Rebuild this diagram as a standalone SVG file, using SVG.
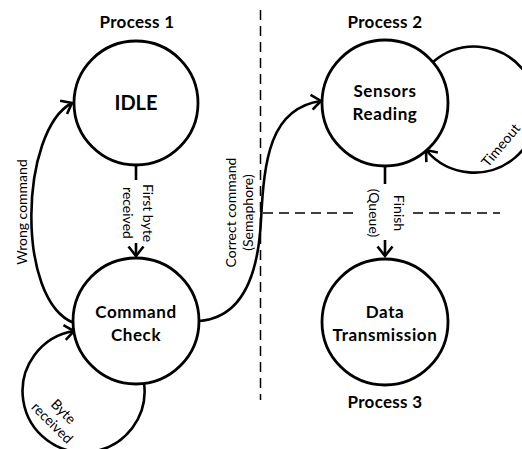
<svg xmlns="http://www.w3.org/2000/svg" width="522" height="449" viewBox="0 0 522 449">
<style>
.node{fill:#fff;stroke:#000;stroke-width:2.8}
.conn{fill:none;stroke:#000;stroke-width:2.6}
.dash{fill:none;stroke:#000;stroke-width:1.5;stroke-dasharray:10,6}
.t{font-family:Lato,"Liberation Sans",sans-serif;fill:#000}
.title{font-size:17px;font-weight:bold;letter-spacing:0.3px}
.big{font-size:20px;font-weight:bold}
.nl{font-size:17px;font-weight:bold;letter-spacing:0.6px}
.lbl{font-size:14px}
</style>
<defs>
<marker id="arr" markerUnits="userSpaceOnUse" markerWidth="20" markerHeight="20" viewBox="-12 -10 14 20" refX="0" refY="0" orient="auto">
<path d="M-9.5,-7.5 L0,0 L-9.5,7.5" fill="none" stroke="#000" stroke-width="2.6"/>
</marker>
</defs>
<g id="dividers">
<line class="dash" x1="260.5" y1="10" x2="260.5" y2="400"/>
<line class="dash" x1="263" y1="213" x2="358" y2="213"/>
<line class="dash" x1="413" y1="213" x2="500" y2="213"/>
</g>
<g id="connectors">
<line class="conn" x1="136" y1="165" x2="136" y2="180"/>
<line class="conn" x1="136" y1="243" x2="136" y2="256" marker-end="url(#arr)"/>
<path class="conn" d="M74,323 C15,300 20,130 72,103" marker-end="url(#arr)"/>
<path class="conn" d="M199,321 C240,318 258,280 261,220 C264,160 270,108 321,101" marker-end="url(#arr)"/>
<path class="conn" d="M433,62 A63,63 0 1,1 426,150" marker-end="url(#arr)"/>
<line class="conn" x1="385" y1="166" x2="385" y2="184"/>
<line class="conn" x1="385" y1="240" x2="385" y2="256" marker-end="url(#arr)"/>
<path class="conn" d="M144,383 A61,61 0 1,1 74,331" marker-end="url(#arr)"/>
</g>
<g id="labels">
<g transform="translate(136,213) rotate(90)"><text class="t lbl" text-anchor="middle" x="0" y="-7">First byte</text><text class="t lbl" text-anchor="middle" x="0" y="13">received</text></g>
<text class="t lbl" text-anchor="middle" transform="translate(27,212) rotate(-90)">Wrong command</text>
<g transform="translate(236,212.5) rotate(-90)"><text class="t lbl" text-anchor="middle" x="0" y="0">Correct command</text><text class="t lbl" text-anchor="middle" x="0" y="17">(Semaphore)</text></g>
<g transform="translate(385,213) rotate(90)"><text class="t lbl" text-anchor="middle" x="0" y="-9">Finish</text><text class="t lbl" text-anchor="middle" x="0" y="16">(Queue)</text></g>
<text class="t lbl" transform="translate(488,168) rotate(-50)">Timeout</text>
<g transform="translate(60,415) rotate(45)"><text class="t lbl" text-anchor="middle" x="0" y="0">Byte</text><text class="t lbl" text-anchor="middle" x="0" y="16">received</text></g>
</g>
<g id="idle">
<circle class="node" cx="136" cy="103" r="62"/>
<text class="t big" x="136" y="110" text-anchor="middle">IDLE</text>
</g>
<g id="command-check">
<circle class="node" cx="136" cy="321" r="63"/>
<text class="t nl" x="136" y="318" text-anchor="middle">Command</text>
<text class="t nl" x="136" y="341" text-anchor="middle">Check</text>
</g>
<g id="sensors-reading">
<circle class="node" cx="385" cy="103" r="63"/>
<text class="t nl" x="385" y="97" text-anchor="middle">Sensors</text>
<text class="t nl" x="385" y="120" text-anchor="middle">Reading</text>
</g>
<g id="data-transmission">
<circle class="node" cx="385" cy="322" r="63"/>
<text class="t nl" x="385" y="318" text-anchor="middle">Data</text>
<text class="t nl" x="385" y="341" text-anchor="middle">Transmission</text>
</g>
<g id="titles">
<text class="t title" x="137" y="28" text-anchor="middle">Process 1</text>
<text class="t title" x="385" y="28" text-anchor="middle">Process 2</text>
<text class="t title" x="385" y="408" text-anchor="middle">Process 3</text>
</g>
</svg>
